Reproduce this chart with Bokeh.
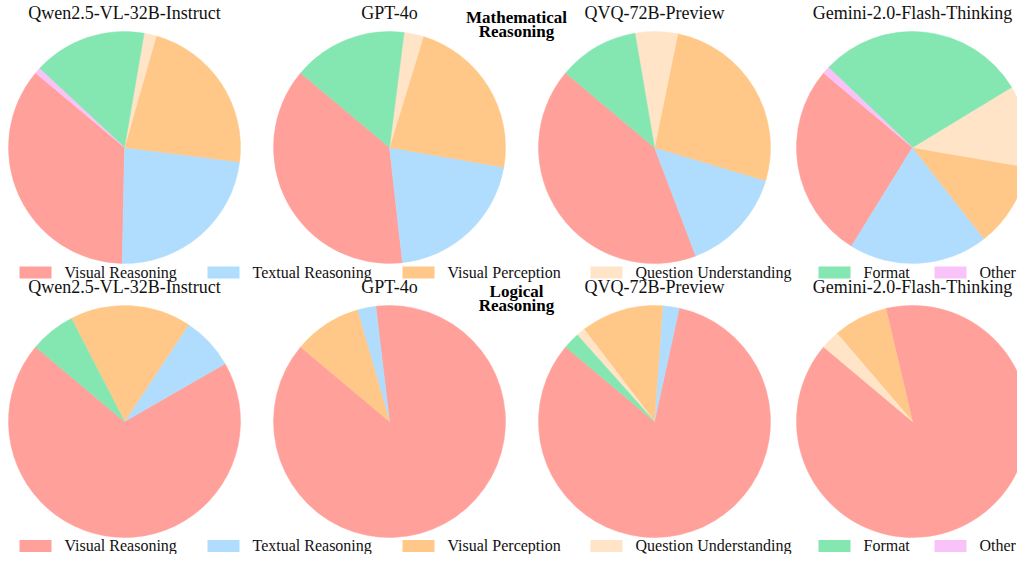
import numpy as np
from bokeh.plotting import figure
from bokeh.models import ColumnDataSource, Range1d
from bokeh.core.properties import value
from bokeh.embed import file_html
from bokeh.resources import INLINE

# ---------------- data ----------------
categories = ["Visual Reasoning", "Textual Reasoning", "Visual Perception",
              "Question Understanding", "Format", "Other"]
models = ["Qwen2.5-VL-32B-Instruct", "GPT-4o", "QVQ-72B-Preview", "Gemini-2.0-Flash-Thinking"]
sections = ["Mathematical\nReasoning", "Logical\nReasoning"]

qwen_math = [35.8, 23.3, 22.6, 1.7, 15.8, 0.8]
gpt4o_math = [37.9, 20.5, 23.0, 2.7, 15.9, 0.0]
qvq_math = [41.9, 14.6, 26.4, 5.9, 11.2, 0.0]
gemini_math = [27.3, 19.4, 11.7, 11.4, 29.2, 1.0]

qwen_logic = [69.4, 7.4, 16.9, 0.0, 6.3, 0.0]
gpt4o_logic = [88.0, 2.6, 9.4, 0.0, 0.0, 0.0]
qvq_logic = [82.7, 2.3, 11.5, 1.2, 2.3, 0.0]
gemini_logic = [89.8, 0.0, 7.6, 2.6, 0.0, 0.0]

rows = [[qwen_math, gpt4o_math, qvq_math, gemini_math],
        [qwen_logic, gpt4o_logic, qvq_logic, gemini_logic]]

colors = ["#FFA09B", "#B0DDFE", "#FFC888", "#FFE4C8", "#84E6B0", "#F9C3FA"]

# ---------------- layout (picture pixel coordinates) ----------------
W, H = 1017, 554
START_DEG = 140.0
RADIUS = 116
PIE_CX = [124, 389, 654, 912]
ROW_DY = 274
PIE_CY = 147
TITLE_MID = 12.6
SEC_X = 516
SEC_MID = 17.2
SEC_STEP = 13.4
LEG_X = [19, 207, 402, 590, 818, 934]
LEG_ROW_DY = 273.6
LEG_TOP = 266
LEG_W, LEG_H = 32, 12
LEG_TXT_DX = 45
LEG_MID = 271.6

SERIF = "Liberation Serif"


def Y(py):
    return H - py


p = figure(width=W, height=H, output_backend="svg", toolbar_location=None,
           x_range=Range1d(0, W), y_range=Range1d(0, H),
           min_border=0, outline_line_color=None)
p.axis.visible = False
p.grid.visible = False
p.background_fill_color = "white"
p.border_fill_color = "white"

# pies
wx, wy, ws, we, wc = [], [], [], [], []
for r, row in enumerate(rows):
    for c, vals in enumerate(row):
        v = np.array(vals, dtype=float)
        frac = v / v.sum()
        cum = np.concatenate([[0.0], np.cumsum(frac)])
        for i in range(len(categories)):
            if frac[i] <= 0:
                continue
            wx.append(PIE_CX[c])
            wy.append(Y(PIE_CY + r * ROW_DY))
            ws.append(np.deg2rad(START_DEG + 360.0 * cum[i]))
            we.append(np.deg2rad(START_DEG + 360.0 * cum[i + 1]))
            wc.append(colors[i])

src = ColumnDataSource(dict(x=wx, y=wy, start=ws, end=we, color=wc))
p.wedge(x="x", y="y", radius=RADIUS, radius_units="screen",
        start_angle="start", end_angle="end", direction="anticlock",
        fill_color="color", line_color="color", line_width=0.5, source=src)

# model titles
tx, ty, tt = [], [], []
for r in range(2):
    for c, m in enumerate(models):
        tx.append(PIE_CX[c])
        ty.append(Y(TITLE_MID + r * ROW_DY))
        tt.append(m)
p.text(x=tx, y=ty, text=tt, text_font=value(SERIF), text_font_size="18px",
       text_align="center", text_baseline="middle", text_color="#111111")

# section labels
sx, sy, st = [], [], []
for r, s in enumerate(sections):
    for k, line in enumerate(s.split("\n")):
        sx.append(SEC_X)
        sy.append(Y(SEC_MID + r * ROW_DY + k * SEC_STEP))
        st.append(line)
p.text(x=sx, y=sy, text=st, text_font=value(SERIF), text_font_size="17px",
       text_font_style="bold", text_align="center", text_baseline="middle",
       text_color="black")

# legends
lx, ly, lc, ltx, lty, ltt = [], [], [], [], [], []
for r in range(2):
    for i, cat in enumerate(categories):
        lx.append(LEG_X[i] + LEG_W / 2)
        ly.append(Y(LEG_TOP + r * LEG_ROW_DY + LEG_H / 2))
        lc.append(colors[i])
        ltx.append(LEG_X[i] + LEG_TXT_DX)
        lty.append(Y(LEG_MID + r * LEG_ROW_DY))
        ltt.append(cat)
p.rect(x=lx, y=ly, width=LEG_W, height=LEG_H, width_units="screen",
       height_units="screen", fill_color=lc, line_color=None)
p.text(x=ltx, y=lty, text=ltt, text_font=value(SERIF), text_font_size="16px",
       text_align="left", text_baseline="middle", text_color="#111111")

open("out.html", "w").write(file_html(p, INLINE))
